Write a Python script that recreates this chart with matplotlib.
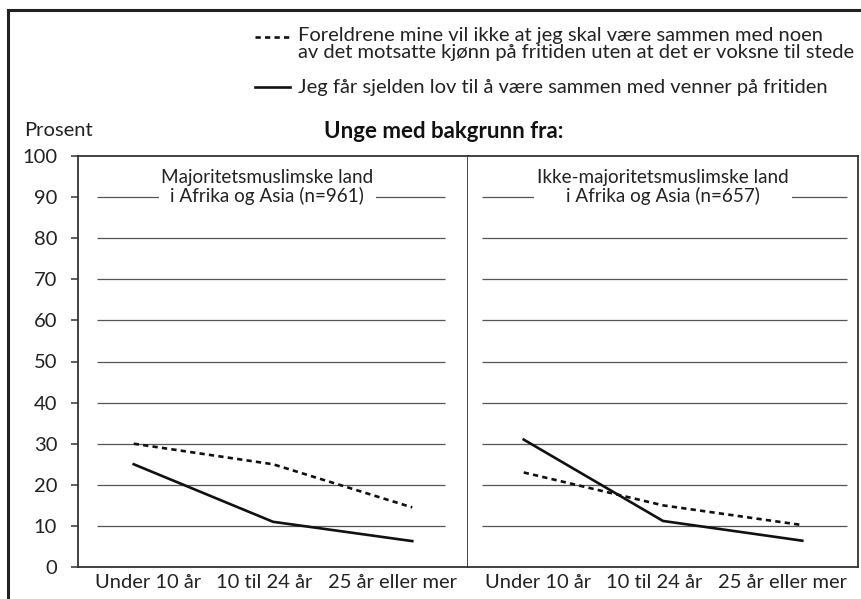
import matplotlib
matplotlib.use("Agg")
import matplotlib.pyplot as plt
from matplotlib.lines import Line2D

plt.rcParams['font.family'] = ['Lato', 'DejaVu Sans']

categories = ["Under 10 år", "10 til 24 år", "25 år eller mer"]
panel_titles = ["Majoritetsmuslimske land\ni Afrika og Asia (n=961)",
                "Ikke-majoritetsmuslimske land\ni Afrika og Asia (n=657)"]
# verdier (prosent) per panel
foreldre = [[30, 25, 14.5], [23, 15, 10.2]]
sjelden = [[25, 11, 6.3], [31, 11.2, 6.4]]
legend_labels = ["Foreldrene mine vil ikke at jeg skal være sammen med noen\n"
                 "av det motsatte kjønn på fritiden uten at det er voksne til stede",
                 "Jeg får sjelden lov til å være sammen med venner på fritiden"]
yticks = list(range(0, 101, 10))

W, H = 862, 599
fig = plt.figure(figsize=(W / 100, H / 100), dpi=100)

def fx(px):
    return px / W

def fy(py):
    return 1 - py / H

ax_l = fig.add_axes([fx(78), fy(567), fx(468) - fx(78), fy(156) - fy(567)])
ax_r = fig.add_axes([fx(468), fy(567), fx(858) - fx(468), fy(156) - fy(567)])

fs = 14.5
grid_ext = [(-0.264, 2.236), (-0.3, 2.32)]
title_x = [0.96, 1.0]
tick_pos = [0.1, 0.94, 1.86]
x = [0, 1, 2]
dash = (0, (2.0, 1.6))

for i, ax in enumerate([ax_l, ax_r]):
    ax.set_xlim(-0.4, 2.4)
    ax.set_ylim(0, 100)
    ax.hlines(yticks[1:-1], grid_ext[i][0], grid_ext[i][1], color='#555555', lw=0.9, zorder=1)
    ax.plot(x, sjelden[i], color='#111111', lw=1.9, zorder=3)
    ax.plot(x, foreldre[i], color='#111111', lw=1.9, ls=dash, zorder=3)
    ax.text(title_x[i], 92.5, panel_titles[i], ha='center', va='center', multialignment='center',
            fontsize=13.6, color='#222222', linespacing=1.05, zorder=4,
            bbox=dict(facecolor='white', edgecolor='none', pad=2))
    ax.set_xticks(tick_pos)
    ax.set_xticklabels(categories, fontsize=fs, color='#222222')
    ax.tick_params(axis='x', length=0, pad=5)
    for s in ax.spines.values():
        s.set_color('#333333')
        s.set_linewidth(1.3)

ax_l.set_yticks(yticks)
ax_l.set_yticklabels([str(v) for v in yticks], fontsize=fs, color='#222222')
ax_l.tick_params(axis='y', length=5, width=1.1, color='#333333', pad=10)
ax_r.set_yticks([])
ax_r.spines['left'].set_visible(False)

# tegnforklaring
fig.add_artist(Line2D([fx(255), fx(290)], [fy(37), fy(37)], color='#111111', lw=1.9, ls=dash))
fig.add_artist(Line2D([fx(255), fx(290)], [fy(87), fy(87)], color='#111111', lw=1.9))
fig.text(fx(298), fy(44), legend_labels[0], ha='left', va='center', fontsize=fs,
         color='#222222', linespacing=0.95)
fig.text(fx(298), fy(87), legend_labels[1], ha='left', va='center', fontsize=fs,
         color='#222222')

fig.text(fx(24), fy(131), "Prosent", ha='left', va='center', fontsize=fs, color='#222222')
fig.text(fx(444), fy(131), "Unge med bakgrunn fra:", ha='center', va='center',
         fontsize=16, fontweight='bold', color='#111111')

# ramme
fig.add_artist(Line2D([fx(8), fx(8)], [0, fy(10)], color='#222222', lw=2.2))
fig.add_artist(Line2D([fx(8), 1], [fy(10), fy(10)], color='#222222', lw=2.2))

fig.savefig("out.png", dpi=100)
